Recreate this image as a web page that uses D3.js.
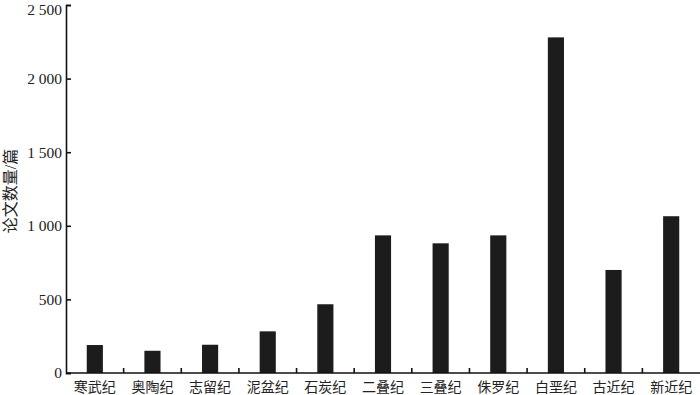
<!DOCTYPE html>
<html>
<head>
<meta charset="utf-8">
<script src="https://cdn.jsdelivr.net/npm/d3@7"></script>
<style>
  body { margin: 0; background: #fff; }
  svg text { font-family: "Liberation Serif", "Noto Sans CJK SC", serif; fill: #222; }
</style>
</head>
<body>
<div id="chart"></div>
<script>
var width = 700;
var height = 395;
var margin = { top: 5, right: 0, bottom: 22, left: 66 };

// 地质时代 / 论文数量
var periods = ["寒武纪", "奥陶纪", "志留纪", "泥盆纪", "石炭纪", "二叠纪", "三叠纪", "侏罗纪", "白垩纪", "古近纪", "新近纪"];
var counts = [190, 151, 192, 283, 467, 935, 881, 935, 2280, 700, 1065];
var yTicks = [0, 500, 1000, 1500, 2000, 2500];

var svg = d3.select("#chart")
  .append("svg")
  .attr("width", width)
  .attr("height", height);

var scalex = d3.scaleBand()
  .domain(periods)
  .range([margin.left, width - margin.right])
  .paddingInner(0.72)
  .paddingOuter(0.36);

var scaley = d3.scaleLinear()
  .domain([0, 2500])
  .range([height - margin.bottom, margin.top]);

// bars
svg.append("g")
  .selectAll("rect")
  .data(counts)
  .enter()
  .append("rect")
  .attr("x", (d, i) => scalex(periods[i]))
  .attr("y", (d) => scaley(d))
  .attr("width", scalex.bandwidth())
  .attr("height", (d) => scaley(0) - scaley(d))
  .attr("fill", "#1c1c1c");

// y axis, ticks pointing inside
var fmt = (d) => d >= 1000 ? Math.floor(d / 1000) + " " + d3.format("03d")(d % 1000) : String(d);
var yaxis = d3.axisRight(scaley).tickValues(yTicks).tickSize(5).tickFormat("");
var gy = svg.append("g")
  .attr("transform", "translate(" + margin.left + ",0)")
  .call(yaxis);
gy.select(".domain").attr("stroke", "#111").attr("stroke-width", 1.6);
gy.selectAll(".tick line").attr("stroke", "#111").attr("stroke-width", 1.6);

// top label is nudged down so it is not clipped
svg.append("g")
  .selectAll("text")
  .data(yTicks)
  .enter()
  .append("text")
  .attr("x", margin.left - 4)
  .attr("y", (d) => Math.max(scaley(d), 10))
  .attr("dy", "0.35em")
  .attr("text-anchor", "end")
  .style("font-size", "15.5px")
  .text(fmt);

// x axis line and category separators
var y0 = scaley(0);
svg.append("line")
  .attr("x1", margin.left)
  .attr("x2", width - margin.right)
  .attr("y1", y0)
  .attr("y2", y0)
  .attr("stroke", "#111")
  .attr("stroke-width", 1.6);

var step = scalex.step();
svg.append("g")
  .selectAll("line")
  .data(periods.slice(1))
  .enter()
  .append("line")
  .attr("x1", (d) => scalex(d) - step * scalex.paddingInner() / 2)
  .attr("x2", (d) => scalex(d) - step * scalex.paddingInner() / 2)
  .attr("y1", y0)
  .attr("y2", y0 - 5)
  .attr("stroke", "#111")
  .attr("stroke-width", 1.6);

// category labels
svg.append("g")
  .selectAll("text")
  .data(periods)
  .enter()
  .append("text")
  .attr("x", (d) => scalex(d) + scalex.bandwidth() / 2)
  .attr("y", y0 + 19)
  .attr("text-anchor", "middle")
  .style("font-size", "14px")
  .text((d) => d);

// y label
svg.append("text")
  .attr("transform", "translate(16," + 191 + ") rotate(-90)")
  .attr("text-anchor", "middle")
  .style("font-size", "16px")
  .text("论文数量/篇");
</script>
</body>
</html>
